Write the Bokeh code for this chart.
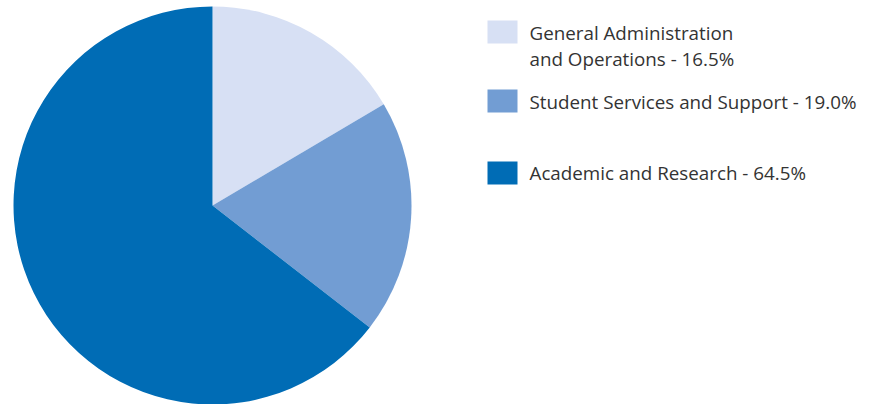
import math
from bokeh.plotting import figure
from bokeh.models import Range1d, ColumnDataSource
from bokeh.core.properties import value
from bokeh.embed import file_html
from bokeh.resources import INLINE

categories = ["General Administration\nand Operations", "Student Services and Support", "Academic and Research"]
shares = [16.5, 19.0, 64.5]
colors = ["#D7E0F4", "#729DD3", "#006CB5"]
labels = [f"{c} - {s:.1f}%" for c, s in zip(categories, shares)]

W, H = 866, 404
p = figure(width=W, height=H, output_backend="svg", toolbar_location=None,
           x_range=Range1d(0, W), y_range=Range1d(0, H), min_border=0)
p.axis.visible = False
p.grid.visible = False
p.outline_line_color = None
p.background_fill_color = "white"
p.border_fill_color = "white"

total = sum(shares)
starts, ends = [], []
cum = 0.0
for s in shares:
    starts.append(math.pi / 2 - 2 * math.pi * cum / total)
    cum += s
    ends.append(math.pi / 2 - 2 * math.pi * cum / total)

src = ColumnDataSource(dict(start=starts, end=ends, color=colors, label=labels))
cx, cy, r = 212, 199, 199
p.wedge(x=cx, y=cy, radius=r, start_angle="start", end_angle="end", direction="clock",
        fill_color="color", line_color=None, source=src)

# legend
sq_y = [372.5, 303.5, 231.5]
first_baseline = [372, 303, 232]
line_gap = 26
p.rect(x=[502] * 3, y=sq_y, width=30, height=23, fill_color=colors, line_color=None)
tx, ty, tt = [], [], []
for lab, yb in zip(labels, first_baseline):
    for k, line in enumerate(lab.split("\n")):
        tx.append(529)
        ty.append(yb - k * line_gap)
        tt.append(line)
p.text(x=tx, y=ty, text=tt, text_font=value("Open Sans"),
       text_font_size="18.8px", text_color="#333333", text_baseline="alphabetic")

open("out.html", "w").write(file_html(p, INLINE))
